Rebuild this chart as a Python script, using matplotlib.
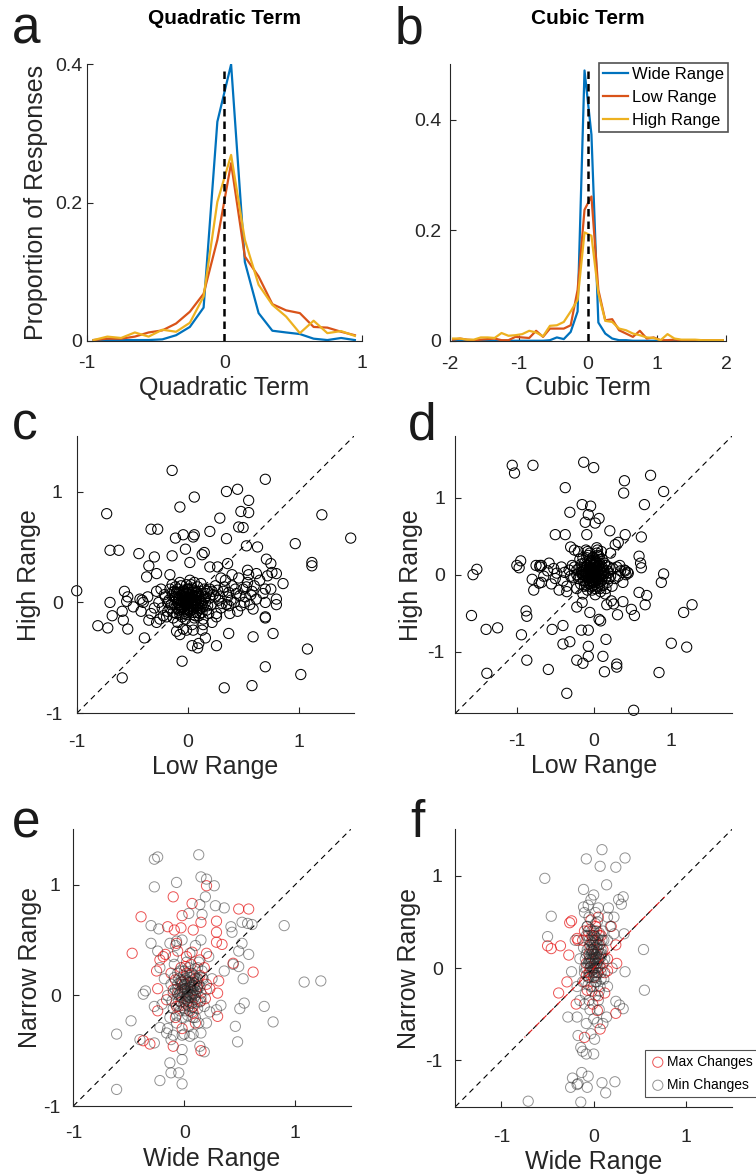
import matplotlib
matplotlib.use("Agg")
import matplotlib.pyplot as plt

plt.rcParams['font.family'] = ['Liberation Sans', 'DejaVu Sans']
plt.rcParams['axes.unicode_minus'] = False

# ---- histogram data (proportion of responses per bin) ----
quad_bins = [-0.95, -0.85, -0.75, -0.65, -0.55, -0.45, -0.35, -0.25, -0.15, -0.05,
             0.05, 0.15, 0.25, 0.35, 0.45, 0.55, 0.65, 0.75, 0.85, 0.95]
quad_wide = [0.001, 0.001, 0.001, 0.001, 0.001, 0.002, 0.008, 0.020, 0.048, 0.317,
             0.400, 0.114, 0.040, 0.0145, 0.012, 0.0097, 0.003, 0.001, 0.004, 0.001]
quad_low = [0.001, 0.003, 0.003, 0.006, 0.012, 0.015, 0.025, 0.042, 0.068, 0.146,
            0.257, 0.122, 0.093, 0.053, 0.044, 0.040, 0.020, 0.019, 0.013, 0.008]
quad_high = [0.001, 0.006, 0.004, 0.012, 0.006, 0.016, 0.013, 0.026, 0.064, 0.201,
             0.269, 0.146, 0.081, 0.052, 0.035, 0.011, 0.029, 0.011, 0.014, 0.007]

cub_bins = [-1.95, -1.85, -1.75, -1.65, -1.55, -1.45, -1.35, -1.25, -1.15, -1.05,
            -0.95, -0.85, -0.75, -0.65, -0.55, -0.45, -0.35, -0.25, -0.15, -0.05,
            0.05, 0.15, 0.25, 0.35, 0.45, 0.55, 0.65, 0.75, 0.85, 0.95,
            1.05, 1.15, 1.25, 1.35, 1.45, 1.55, 1.65, 1.75, 1.85, 1.95]
cub_wide = [0, 0, 0, 0, 0, 0, 0, 0, 0, 0,
            0, 0, 0, 0, 0.001, 0.006, 0.003, 0.016, 0.053, 0.489,
            0.373, 0.033, 0.013, 0.004, 0.001, 0.001, 0, 0, 0, 0,
            0, 0, 0, 0, 0, 0, 0, 0, 0, 0]
cub_low = [0.002, 0.004, 0.002, 0.001, 0.002, 0.003, 0.004, 0.001, 0.001, 0.007,
           0.006, 0.005, 0.018, 0.007, 0.022, 0.022, 0.022, 0.028, 0.092, 0.237,
           0.261, 0.092, 0.037, 0.039, 0.019, 0.013, 0.007, 0.018, 0.004, 0.006,
           0.001, 0.001, 0.002, 0.001, 0.001, 0.001, 0.001, 0.001, 0.001, 0.001]
cub_high = [0.004, 0.004, 0.002, 0.002, 0.006, 0.006, 0.005, 0.014, 0.009, 0.010,
            0.012, 0.018, 0.015, 0.008, 0.027, 0.028, 0.034, 0.053, 0.074, 0.196,
            0.190, 0.086, 0.036, 0.034, 0.022, 0.019, 0.013, 0.010, 0.006, 0.005,
            0.001, 0.012, 0.004, 0.002, 0.002, 0.002, 0.001, 0.001, 0.001, 0.001]
series_names = ['Wide Range', 'Low Range', 'High Range']
series_colors = ['#0072BD', '#D95319', '#EDB120']

# ---- panel c: quadratic term, low range vs high range ----
c_pts = [(-1.0, 0.105), (-0.14, 1.19), (0.70, 1.11), (0.35, 1.0), (0.45, 1.02), (0.06, 0.95),
         (0.55, 0.92), (-0.07, 0.86), (0.48, 0.82), (0.55, 0.81), (1.21, 0.79), (-0.73, 0.80),
         (0.29, 0.76), (0.46, 0.68), (0.50, 0.675), (-0.33, 0.66), (-0.27, 0.66), (0.20, 0.64),
         (-0.04, 0.61), (0.06, 0.61), (0.05, 0.59), (-0.11, 0.58), (0.35, 0.575), (1.47, 0.58),
         (0.97, 0.53), (0.53, 0.51), (0.63, 0.50), (-0.70, 0.47), (-0.62, 0.47), (-0.02, 0.48),
         (-0.44, 0.44), (-0.30, 0.41), (-0.14, 0.42), (0.13, 0.43), (0.15, 0.45), (0.02, 0.36),
         (0.71, 0.39), (0.36, 0.35), (1.12, 0.36), (1.12, 0.33), (-0.35, 0.33), (0.27, 0.32),
         (0.20, 0.32), (0.75, 0.35), (0.76, 0.27), (0.80, 0.26), (0.54, 0.29), (0.62, 0.26),
         (0.86, 0.17), (0.70, 0.12), (-0.28, 0.26), (-0.16, 0.25), (-0.37, 0.23), (-0.57, 0.10),
         (-0.54, 0.05), (-0.55, 0.01), (-0.70, 0.0), (-0.43, 0.03), (-0.41, 0.02), (-0.59, -0.08),
         (-0.68, -0.12), (-0.58, -0.16), (-0.81, -0.21), (-0.72, -0.23), (-0.54, -0.24), (-0.49, -0.04),
         (-0.35, -0.16), (-0.28, -0.18), (-0.39, -0.32), (-0.59, -0.68), (-0.05, -0.53), (0.33, -0.77),
         (0.58, -0.75), (0.70, -0.58), (1.02, -0.65), (1.08, -0.42), (0.77, -0.28), (0.59, -0.31),
         (0.37, -0.28), (0.26, -0.39), (0.09, -0.41), (0.04, -0.39), (0.10, -0.37), (0.16, -0.32),
         (0.13, -0.25), (-0.07, -0.29), (-0.01, -0.25), (0.70, -0.14), (0.70, -0.13), (0.59, -0.06),
         (0.80, -0.02), (0.80, 0.03), (0.26, -0.13), (0.37, -0.03),
         (-0.20, 0.05), (-0.15, -0.02), (-0.12, 0.10), (-0.10, -0.10), (-0.08, 0.02), (-0.06, 0.15),
         (-0.05, -0.05), (-0.03, 0.08), (-0.02, -0.15), (0.00, 0.00), (0.01, 0.12), (0.02, -0.08),
         (0.03, 0.04), (0.05, -0.02), (0.06, 0.18), (0.07, -0.12), (0.08, 0.06), (0.10, 0.00),
         (0.11, -0.05), (0.12, 0.10), (0.14, -0.15), (0.15, 0.03), (0.17, 0.08), (0.18, -0.03),
         (0.20, 0.12), (-0.18, -0.08), (-0.14, 0.16), (-0.11, 0.04), (-0.09, -0.18), (-0.07, -0.02),
         (-0.04, 0.11), (-0.01, 0.05), (0.00, -0.04), (0.02, 0.20), (0.04, -0.20), (0.06, 0.02),
         (0.09, 0.14), (0.13, -0.09), (0.16, 0.00), (-0.22, -0.12), (-0.03, -0.10), (0.04, 0.09),
         (-0.06, 0.06), (0.07, -0.04), (-0.01, 0.16), (0.01, -0.01), (-0.10, 0.09), (0.10, 0.07),
         (-0.13, -0.14), (0.19, -0.10), (-0.02, 0.02), (0.03, -0.03), (-0.05, 0.01), (0.05, 0.05),
         (0.00, 0.08), (-0.08, -0.07), (0.08, -0.09), (-0.16, 0.12), (0.12, 0.17), (-0.04, -0.24),
         (0.05, -0.25), (-0.10, -0.26), (0.14, -0.20), (0.22, -0.18), (0.25, 0.05), (-0.26, 0.00),
         (-0.28, 0.10), (-0.30, -0.05), (-0.33, -0.10), (-0.36, 0.05), (-0.40, 0.00), (-0.42, -0.08),
         (-0.25, -0.15), (-0.24, 0.12), (0.25, 0.15), (0.28, 0.02), (0.30, -0.05), (0.32, 0.10),
         (0.34, 0.20), (0.36, 0.05), (0.38, -0.10), (0.40, 0.15), (0.42, 0.00), (0.44, 0.08),
         (0.46, 0.22), (0.48, -0.03), (0.50, 0.12), (0.52, 0.05), (0.54, 0.18), (0.56, -0.02),
         (0.58, 0.10), (0.60, 0.15), (0.62, 0.03), (0.65, 0.20), (0.68, 0.08), (0.72, 0.24),
         (0.75, 0.12), (0.30, 0.22), (0.26, -0.10), (0.45, -0.08), (0.35, -0.02), (0.55, 0.25),
         (0.40, 0.25), (0.70, 0.00),
         (-0.12, -0.02), (-0.10, 0.03), (-0.09, 0.12), (-0.07, -0.11), (-0.06, -0.04), (-0.05, 0.07),
         (-0.04, 0.00), (-0.03, -0.06), (-0.02, 0.10), (-0.01, -0.11), (0.00, 0.04), (0.01, 0.09),
         (0.02, -0.05), (0.03, 0.01), (0.04, 0.13), (0.05, -0.09), (0.06, 0.06), (0.07, 0.00),
         (0.08, 0.10), (0.09, -0.03), (0.10, 0.04), (0.11, -0.10), (0.12, 0.01), (0.13, 0.06),
         (0.14, -0.04), (-0.14, 0.06), (-0.13, -0.09), (-0.11, 0.14), (-0.08, 0.08), (-0.05, -0.13),
         (-0.02, -0.03), (0.00, -0.09), (0.02, 0.07), (0.04, -0.01), (0.06, -0.14), (0.08, 0.02),
         (0.10, -0.12), (0.03, 0.16), (-0.07, 0.18), (0.15, 0.12), (-0.17, 0.02), (0.17, -0.07),
         (0.20, 0.04), (0.22, 0.10), (-0.19, -0.13), (-0.01, 0.00), (0.01, 0.02), (-0.03, 0.04),
         (0.05, 0.11), (-0.09, -0.05),
         (-0.06, 0.01), (-0.04, 0.05), (-0.02, -0.02), (0.00, 0.02), (0.02, 0.05), (0.04, 0.02),
         (0.06, -0.02), (0.08, 0.04), (-0.08, 0.04), (-0.06, -0.06), (-0.03, -0.08), (0.01, -0.06),
         (0.05, -0.06), (0.09, -0.06), (-0.09, 0.00), (0.11, 0.02), (-0.04, 0.09), (0.00, 0.12),
         (0.04, 0.07), (0.07, 0.09), (-0.12, 0.05), (0.13, -0.01), (0.16, 0.05), (0.18, 0.10),
         (0.21, -0.02), (0.23, 0.07), (0.27, 0.11), (0.29, 0.05), (0.31, -0.01), (0.33, 0.14),
         (0.37, 0.09), (0.39, 0.02), (0.43, 0.12), (0.47, 0.06), (0.51, 0.00), (0.53, 0.14),
         (0.57, 0.07), (-0.18, 0.00), (-0.21, 0.07), (-0.23, -0.05), (-0.16, -0.05), (-0.14, 0.09)]

# ---- panel d: cubic term, low range vs high range ----
d_pts = [(-1.06, 1.42), (-1.03, 1.32), (-0.79, 1.42), (-0.13, 1.46), (0.0, 1.39), (0.74, 1.29),
         (-0.37, 1.13), (0.40, 1.22), (0.39, 1.06), (0.91, 1.08), (0.66, 0.91), (-0.31, 0.81),
         (-0.15, 0.91), (-0.04, 0.89), (-0.07, 0.78), (-0.11, 0.68), (0.07, 0.73), (0.02, 0.67),
         (0.21, 0.57), (-0.50, 0.52), (-0.37, 0.52), (-0.09, 0.52), (0.41, 0.52), (0.62, 0.49),
         (0.32, 0.42), (0.28, 0.39), (-0.30, 0.36), (-0.25, 0.32), (-0.95, 0.18), (-1.0, 0.12),
         (-0.97, 0.09), (-1.52, 0.07), (-1.57, 0.0), (-0.80, -0.06), (-0.78, -0.20), (-0.71, -0.11),
         (-0.70, 0.12), (-0.68, 0.12), (-1.59, -0.53), (-1.40, -0.71), (-1.25, -0.69), (-0.88, -0.47),
         (-0.87, -0.54), (-0.94, -0.78), (-1.39, -1.28), (-0.87, -1.11), (-0.59, -1.23), (-0.54, -0.71),
         (-0.40, -0.66), (-0.40, -0.90), (-0.31, -0.87), (-0.35, -1.54), (-0.22, -1.11), (-0.14, -1.15),
         (-0.07, -1.06), (-0.07, -0.93), (-0.16, -0.72), (-0.07, -0.72), (-0.15, -0.36), (-0.22, -0.42),
         (-0.05, -0.49), (0.07, -0.58), (0.09, -0.60), (0.16, -0.84), (0.12, -1.06), (0.14, -1.26),
         (0.30, -1.16), (0.30, -1.20), (0.52, -1.76), (0.85, -1.27), (1.01, -0.89), (1.21, -0.94),
         (1.17, -0.49), (1.28, -0.39), (0.88, -0.10), (0.91, 0.01), (0.67, -0.39), (0.69, -0.27),
         (0.59, -0.23), (0.49, -0.45), (0.53, -0.53), (0.38, -0.35), (0.31, -0.52), (0.26, -0.38),
         (0.23, -0.34), (0.17, -0.39), (0.59, 0.24), (0.61, 0.15), (0.62, 0.09), (0.41, 0.05),
         (0.44, 0.03), (0.42, 0.0), (0.34, 0.12),
         (-0.25, 0.10), (-0.20, -0.05), (-0.18, 0.20), (-0.15, 0.00), (-0.12, -0.15), (-0.10, 0.10),
         (-0.08, 0.30), (-0.06, -0.05), (-0.05, 0.05), (-0.03, 0.18), (-0.02, -0.20), (0.00, 0.00),
         (0.02, 0.12), (0.03, -0.08), (0.05, 0.25), (0.06, 0.03), (0.08, -0.12), (0.10, 0.08),
         (0.12, -0.02), (0.14, 0.15), (0.16, -0.18), (0.18, 0.05), (0.20, -0.05), (-0.22, -0.18),
         (-0.16, 0.14), (-0.13, 0.05), (-0.11, -0.08), (-0.09, 0.22), (-0.07, 0.00), (-0.04, -0.12),
         (-0.01, 0.08), (0.01, -0.03), (0.04, 0.35), (0.07, 0.15), (0.09, -0.22), (0.11, 0.20),
         (0.13, 0.02), (-0.03, 0.02), (0.00, -0.06), (-0.06, 0.10), (0.04, 0.06), (-0.02, -0.01),
         (0.02, 0.04), (-0.08, -0.03), (0.06, -0.04), (-0.14, -0.25), (0.15, -0.25), (0.10, 0.30),
         (-0.05, 0.28), (0.22, 0.28), (-0.20, 0.30), (0.02, -0.26), (-0.75, 0.12), (-0.70, 0.10),
         (-0.68, -0.10), (-0.65, -0.02), (-0.60, 0.05), (-0.55, -0.12), (-0.52, 0.08), (-0.50, -0.05),
         (-0.48, 0.02), (-0.45, -0.20), (-0.42, 0.10), (-0.40, -0.08), (-0.38, 0.03), (-0.35, -0.15),
         (-0.32, 0.06), (-0.30, -0.02), (-0.28, 0.12), (0.25, 0.08), (0.28, -0.05), (0.30, 0.10),
         (0.32, -0.02), (0.35, 0.05), (0.38, -0.10), (0.40, 0.06), (0.45, 0.02), (-0.35, -0.22),
         (-0.58, 0.15), (0.24, -0.15),
         (-0.15, 0.05), (-0.13, -0.08), (-0.12, 0.15), (-0.10, 0.02), (-0.09, -0.14), (-0.08, 0.12),
         (-0.07, 0.25), (-0.06, -0.08), (-0.05, 0.00), (-0.04, 0.14), (-0.03, -0.16), (-0.02, 0.06),
         (-0.01, 0.22), (0.00, -0.10), (0.01, 0.03), (0.02, 0.18), (0.03, -0.02), (0.04, 0.09),
         (0.05, -0.15), (0.06, 0.12), (0.07, 0.00), (0.08, 0.20), (0.09, 0.05), (0.10, -0.08),
         (0.11, 0.10), (0.12, -0.14), (-0.14, 0.22), (-0.11, -0.02), (-0.06, 0.18), (-0.04, 0.04),
         (-0.02, -0.06), (0.00, 0.12), (0.02, -0.18), (0.04, 0.28), (0.06, -0.07), (-0.17, -0.12),
         (0.14, 0.02), (-0.01, 0.01), (-0.03, 0.08), (0.01, -0.02), (0.03, 0.15), (-0.08, -0.20),
         (0.08, -0.18), (-0.18, 0.10), (0.16, 0.12), (0.05, 0.32), (-0.10, 0.32), (0.18, -0.10),
         (-0.22, 0.00), (0.20, 0.10),
         (-0.07, 0.03), (-0.05, 0.08), (-0.03, -0.03), (-0.01, 0.04), (0.01, 0.09), (0.03, 0.01),
         (0.05, 0.05), (-0.09, -0.04), (-0.06, -0.12), (-0.02, -0.10), (0.02, -0.08), (0.06, -0.10),
         (-0.10, 0.07), (0.08, 0.07), (-0.04, 0.16), (0.00, 0.18), (0.04, 0.16), (-0.13, 0.00),
         (0.10, -0.01), (-0.01, -0.14), (-0.16, 0.03), (-0.19, -0.03), (-0.22, 0.06), (-0.26, -0.04),
         (0.13, 0.06), (0.16, -0.03), (0.19, 0.02), (0.22, -0.02), (-0.12, 0.10), (0.07, 0.24)]

# ---- panel e: quadratic term, wide vs narrow range ----
e_min_pts = [(-0.27, 1.23), (-0.24, 1.25), (0.13, 1.27), (-0.27, 0.98), (-0.07, 1.02), (0.15, 1.07),
             (0.20, 1.05), (0.27, 0.99), (0.19, 0.89), (0.28, 0.81), (0.36, 0.79), (0.14, 0.82),
             (0.04, 0.74), (0.16, 0.73), (-0.30, 0.63), (-0.23, 0.60), (0.42, 0.62), (0.43, 0.57),
             (0.52, 0.66), (0.57, 0.65), (0.61, 0.64), (0.90, 0.63), (-0.30, 0.47), (-0.13, 0.47),
             (-0.07, 0.49), (-0.24, 0.40), (0.49, 0.40), (0.58, 0.37), (0.52, 0.47), (0.44, 0.28),
             (0.49, 0.26), (0.36, 0.22), (0.53, 0.15), (1.08, 0.12), (1.23, 0.13), (-0.37, 0.01),
             (-0.35, 0.04), (-0.27, -0.10), (-0.48, -0.23), (-0.61, -0.35), (-0.61, -0.85), (-0.40, -0.40),
             (-0.27, -0.43), (-0.22, -0.29), (-0.16, -0.34), (-0.10, -0.36), (-0.02, -0.36), (0.05, -0.37),
             (-0.02, -0.49), (-0.02, -0.58), (-0.13, -0.61), (-0.12, -0.70), (-0.05, -0.70), (-0.22, -0.77),
             (-0.02, -0.80), (0.15, -0.34), (0.18, -0.51), (0.14, -0.46), (0.46, -0.28), (0.48, -0.42),
             (0.50, -0.12), (0.54, -0.07), (0.72, -0.10), (0.80, -0.24), (0.33, -0.09), (0.23, -0.15),
             (0.29, -0.13), (0.13, -0.25),
             (-0.15, 0.00), (-0.12, 0.10), (-0.10, -0.12), (-0.08, 0.05), (-0.06, 0.20), (-0.05, -0.05),
             (-0.03, 0.12), (-0.02, -0.20), (0.00, 0.02), (0.01, 0.15), (0.02, -0.08), (0.03, 0.06),
             (0.04, 0.25), (0.05, -0.02), (0.06, 0.10), (0.07, -0.15), (0.08, 0.04), (0.09, 0.18),
             (0.10, 0.00), (0.11, 0.12), (0.12, -0.06), (0.14, 0.08), (0.16, 0.22), (0.18, -0.10),
             (-0.13, -0.20), (-0.09, 0.28), (-0.07, -0.25), (-0.04, 0.03), (-0.01, 0.08), (0.00, -0.12),
             (0.02, 0.30), (0.04, -0.28), (0.06, 0.00), (0.08, 0.14), (0.10, -0.20), (0.13, 0.30),
             (0.15, -0.02), (0.17, 0.15), (0.20, 0.05), (-0.18, 0.15), (-0.20, -0.08), (0.03, 0.00),
             (-0.02, 0.05), (0.05, 0.08), (0.01, -0.03), (-0.05, 0.15), (0.07, 0.20), (0.12, 0.25),
             (-0.10, 0.35), (0.05, 0.38), (0.20, -0.25), (-0.15, -0.30), (0.25, 0.15), (-0.22, 0.25),
             (0.22, 0.35), (-0.08, 0.45), (0.10, 0.45), (0.15, 0.50), (-0.02, 0.50), (0.00, -0.35),
             (0.08, -0.35), (-0.12, -0.40),
             (-0.10, 0.02), (-0.08, -0.08), (-0.06, 0.10), (-0.04, -0.14), (-0.03, 0.04), (-0.01, 0.18),
             (0.00, -0.06), (0.01, 0.06), (0.03, -0.18), (0.04, 0.12), (0.05, 0.01), (0.06, 0.20),
             (0.07, -0.07), (0.08, 0.09), (0.09, -0.02), (0.10, 0.15), (0.11, 0.04), (0.12, -0.12),
             (0.13, 0.10), (0.15, 0.02), (0.16, 0.16), (-0.09, 0.16), (-0.07, -0.18), (-0.05, 0.00),
             (-0.02, 0.10), (0.00, 0.22), (0.02, -0.01), (0.04, -0.10), (0.06, 0.05), (0.08, -0.20),
             (0.10, 0.24), (0.12, 0.06), (0.14, -0.06), (-0.11, -0.05), (0.02, 0.13), (0.05, 0.16),
             (-0.04, 0.22), (0.09, 0.08), (0.01, -0.14), (0.07, 0.02),
             (-0.04, 0.01), (0.00, 0.05), (0.03, 0.03), (0.06, 0.07), (0.02, -0.04), (-0.02, -0.02),
             (0.05, 0.12), (0.08, 0.01), (-0.06, 0.06), (0.01, 0.10), (0.04, -0.06), (0.09, 0.11),
             (-0.03, 0.14), (0.07, -0.11), (-0.01, -0.09)]
e_max_pts = [(-0.39, 0.71), (-0.10, 0.89), (0.07, 0.83), (0.20, 0.99), (-0.02, 0.72), (-0.15, 0.62),
             (-0.09, 0.59), (-0.03, 0.61), (0.08, 0.59), (0.15, 0.66), (0.29, 0.67), (0.29, 0.57),
             (0.49, 0.78), (0.58, 0.78), (-0.47, 0.38), (-0.17, 0.37), (-0.22, 0.32), (-0.25, 0.22),
             (-0.19, 0.35), (-0.07, 0.47), (0.07, 0.39), (0.20, 0.38), (0.29, 0.48), (0.34, 0.46),
             (0.62, 0.21), (0.44, 0.29), (-0.24, 0.06), (-0.24, -0.14), (-0.10, -0.46), (-0.37, -0.41),
             (-0.31, -0.44), (0.15, -0.50), (0.30, -0.19), (0.30, 0.02), (0.31, 0.13), (0.23, 0.06),
             (0.08, -0.16), (0.19, -0.03), (-0.07, -0.10), (-0.16, -0.04), (0.01, 0.26),
             (-0.10, 0.05), (-0.05, -0.10), (0.00, 0.10), (0.03, -0.05), (0.05, 0.18), (0.08, -0.10),
             (0.10, 0.05), (0.12, 0.15), (-0.03, 0.25), (0.15, -0.05), (-0.08, -0.20), (0.02, 0.35),
             (0.06, 0.28), (-0.12, 0.20), (0.18, 0.25), (0.14, 0.32), (0.20, 0.10), (-0.06, 0.40),
             (0.10, -0.25), (-0.02, -0.30),
             (-0.06, 0.02), (0.00, 0.06), (0.04, -0.02), (0.07, 0.12), (0.10, -0.04), (-0.03, -0.06),
             (0.02, 0.20), (0.12, 0.08), (-0.08, 0.14), (0.05, -0.14), (0.14, 0.18), (-0.02, 0.12)]

# ---- panel f: cubic term, wide vs narrow range ----
f_min_pts = [(-0.53, 0.97), (-0.08, 1.18), (0.09, 1.28), (0.07, 1.10), (0.34, 1.19), (0.24, 1.09),
             (0.14, 0.90), (-0.11, 0.85), (0.0, 0.79), (-0.03, 0.74), (-0.11, 0.66), (-0.06, 0.68),
             (0.16, 0.65), (0.27, 0.74), (0.32, 0.77), (0.30, 0.69), (0.22, 0.55), (-0.46, 0.56),
             (-0.50, 0.34), (0.54, 0.20), (0.34, -0.04), (0.55, -0.24), (0.24, -0.36), (0.28, -0.40),
             (0.32, -0.44), (0.33, 0.37), (0.22, 0.37), (0.15, 0.55), (-0.24, -0.04), (-0.28, -0.53),
             (-0.18, -0.53), (-0.17, -0.73), (-0.14, -0.86), (-0.12, -0.90), (-0.08, -0.93), (0.0, -0.93),
             (0.01, -0.77), (-0.03, -0.71), (-0.10, -0.39), (0.14, -0.53), (0.04, -0.59), (-0.71, -1.44),
             (-0.23, -1.19), (-0.25, -1.29), (-0.18, -1.26), (-0.17, -1.25), (-0.13, -1.13), (-0.06, -1.17),
             (-0.07, -1.29), (-0.14, -1.45), (0.09, -1.24), (0.13, -1.35), (0.23, -1.23),
             (-0.10, 0.00), (-0.08, 0.15), (-0.06, -0.10), (-0.05, 0.30), (-0.04, 0.05), (-0.03, -0.20),
             (-0.02, 0.20), (-0.01, 0.10), (0.00, -0.05), (0.01, 0.35), (0.02, 0.00), (0.03, -0.15),
             (0.04, 0.25), (0.05, 0.08), (0.06, -0.25), (0.07, 0.15), (0.08, -0.05), (0.10, 0.40),
             (-0.09, -0.28), (-0.07, 0.45), (-0.03, 0.10), (0.00, 0.15), (0.02, -0.30), (0.04, 0.50),
             (0.06, 0.02), (-0.11, 0.22), (0.11, -0.12), (-0.05, -0.35), (0.09, 0.30), (-0.02, 0.40),
             (0.01, -0.08), (-0.06, 0.05), (0.03, 0.12), (-0.01, -0.02), (0.00, 0.25), (0.05, -0.35),
             (-0.08, 0.35), (0.08, 0.20), (-0.12, -0.15), (0.12, 0.10), (-0.04, -0.45), (0.06, -0.45),
             (0.02, 0.60), (-0.05, 0.55), (0.15, 0.30), (-0.15, 0.10), (0.15, -0.20), (-0.15, -0.35),
             (0.00, -0.55), (0.05, 0.65), (-0.10, 0.60), (0.10, -0.60), (-0.08, -0.60), (0.18, 0.45),
             (-0.18, -0.20), (0.20, 0.00), (-0.20, 0.30),
             (-0.08, 0.00), (-0.07, 0.20), (-0.06, 0.35), (-0.05, -0.10), (-0.04, 0.12), (-0.03, 0.28),
             (-0.02, -0.03), (-0.01, 0.18), (0.00, 0.40), (0.01, 0.05), (0.02, -0.15), (0.03, 0.22),
             (0.04, 0.32), (0.05, -0.05), (0.06, 0.10), (0.07, 0.26), (0.08, -0.12), (0.09, 0.15),
             (0.10, 0.05), (-0.09, 0.10), (-0.06, -0.18), (-0.04, 0.42), (-0.02, 0.08), (0.00, -0.20),
             (0.02, 0.30), (0.04, 0.00), (0.06, 0.38), (0.08, 0.12), (-0.05, 0.22), (0.03, -0.08),
             (-0.01, 0.33), (0.01, 0.15), (-0.03, 0.02), (0.05, 0.20), (0.11, 0.30), (-0.10, -0.05),
             (0.07, -0.20), (-0.07, 0.45), (0.02, 0.48), (0.00, 0.10),
             (-0.03, 0.06), (0.00, 0.00), (0.02, 0.10), (-0.02, 0.15), (0.01, 0.22), (0.03, 0.05),
             (-0.04, -0.04), (0.04, 0.17), (-0.01, 0.27), (0.02, -0.10), (0.05, 0.12), (-0.05, 0.08),
             (0.00, 0.35), (0.03, 0.28), (-0.03, 0.20)]
f_max_pts = [(-0.26, 0.49), (-0.24, 0.51), (-0.50, 0.24), (-0.46, 0.21), (-0.36, 0.24), (-0.27, 0.14),
             (-0.29, -0.15), (-0.38, -0.27), (-0.18, 0.32), (-0.10, 0.40), (-0.03, 0.52), (0.05, 0.55),
             (0.19, 0.45), (0.24, 0.25), (0.25, 0.05), (0.12, -0.27), (0.24, -0.49), (0.07, -0.66),
             (-0.10, -0.75), (-0.19, -0.39), (-0.01, -0.39), (0.04, -0.46), (-0.17, 0.30), (-0.07, -0.24),
             (0.15, -0.03),
             (-0.08, 0.05), (-0.04, 0.25), (0.00, -0.10), (0.03, 0.15), (0.06, 0.35), (-0.02, -0.25),
             (0.08, 0.00), (-0.06, 0.40), (0.05, -0.30), (0.10, 0.20), (-0.10, -0.15), (0.02, 0.45),
             (0.12, -0.05), (-0.12, 0.30), (0.15, 0.10), (0.00, 0.30), (-0.05, -0.05), (0.04, 0.05),
             (-0.05, 0.15), (0.00, 0.20), (0.04, -0.05), (-0.02, 0.35), (0.06, 0.25), (0.02, 0.08),
             (-0.08, -0.08), (0.08, 0.35), (-0.04, 0.00), (0.03, 0.40)]

GREY = '#262626'
MS = 54


def style(ax, xpad, ypad):
    for s in ['top', 'right']:
        ax.spines[s].set_visible(False)
    for s in ['left', 'bottom']:
        ax.spines[s].set_color(GREY)
        ax.spines[s].set_linewidth(0.8)
    ax.tick_params(direction='in', length=4, width=0.8, colors=GREY, labelsize=14)
    ax.tick_params(axis='x', pad=xpad)
    ax.tick_params(axis='y', pad=ypad)


def xy(pts):
    return [p[0] for p in pts], [p[1] for p in pts]


fig = plt.figure(figsize=(7.56, 11.75), dpi=100)

ax_a = fig.add_axes([0.1147, 0.7100, 0.3638, 0.2352])
ax_b = fig.add_axes([0.5948, 0.7100, 0.3659, 0.2352])
ax_c = fig.add_axes([0.1015, 0.3929, 0.3668, 0.2360])
ax_d = fig.add_axes([0.6023, 0.3929, 0.3660, 0.2360])
ax_e = fig.add_axes([0.0970, 0.0587, 0.3670, 0.2355])
ax_f = fig.add_axes([0.6023, 0.0581, 0.3660, 0.2361])

# panel a
for vals, col in zip([quad_wide, quad_low, quad_high], series_colors):
    ax_a.plot(quad_bins, vals, color=col, lw=1.6)
ax_a.vlines(0, 0, 0.39, colors='k', linestyles=(0, (3, 2)), lw=1.8)
ax_a.set_xlim(-1, 1)
ax_a.set_ylim(0, 0.4)
ax_a.set_xticks([-1, 0, 1])
ax_a.set_yticks([0, 0.2, 0.4])
ax_a.set_yticklabels(['0', '0.2', '0.4'])
ax_a.set_xlabel('Quadratic Term', fontsize=18, color=GREY, labelpad=3)
ax_a.set_ylabel('Proportion of Responses', fontsize=18, color=GREY, labelpad=5)
ax_a.text(0.5, 1.167, 'Quadratic Term', transform=ax_a.transAxes, ha='center',
          va='center', fontsize=15, fontweight='bold')
style(ax_a, 10, 3)

# panel b
for vals, col, name in zip([cub_wide, cub_low, cub_high], series_colors, series_names):
    ax_b.plot(cub_bins, vals, color=col, lw=1.6, label=name)
ax_b.vlines(0, 0, 0.49, colors='k', linestyles=(0, (3, 2)), lw=1.8)
ax_b.set_xlim(-2, 2)
ax_b.set_ylim(0, 0.5)
ax_b.set_xticks([-2, -1, 0, 1, 2])
ax_b.set_yticks([0, 0.2, 0.4])
ax_b.set_yticklabels(['0', '0.2', '0.4'])
ax_b.set_xlabel('Cubic Term', fontsize=18, color=GREY, labelpad=2)
ax_b.text(0.5, 1.167, 'Cubic Term', transform=ax_b.transAxes, ha='center',
          va='center', fontsize=15, fontweight='bold')
leg = ax_b.legend(loc='upper right', bbox_to_anchor=(1.005, 1.005), borderaxespad=0,
                  fontsize=12, frameon=True, fancybox=False, handlelength=1.5,
                  handletextpad=0.2, labelspacing=0.47, borderpad=0.25)
leg.get_frame().set_edgecolor(GREY)
leg.get_frame().set_linewidth(1.2)
style(ax_b, 11, 6)


def scatter_panel(ax, lim, xlabel, ylabel, xpad, ypad):
    ax.plot(lim, lim, color='k', ls=(0, (5, 4)), lw=0.8)
    ax.set_xlim(*lim)
    ax.set_ylim(*lim)
    ax.set_xticks([-1, 0, 1])
    ax.set_yticks([-1, 0, 1])
    ax.set_xlabel(xlabel, fontsize=18, color=GREY, labelpad=3)
    ax.set_ylabel(ylabel, fontsize=18, color=GREY, labelpad=3)
    style(ax, xpad, ypad)


# panel c
cx, cy = xy(c_pts)
ax_c.scatter(cx, cy, s=MS, facecolors='none', edgecolors='k', linewidths=0.75, clip_on=False)
scatter_panel(ax_c, (-1, 1.5), 'Low Range', 'High Range', 15, 10)

# panel d
dx, dy = xy(d_pts)
ax_d.scatter(dx, dy, s=MS, facecolors='none', edgecolors='k', linewidths=0.75, clip_on=False)
scatter_panel(ax_d, (-1.8, 1.8), 'Low Range', 'High Range', 14, 7.5)

# panel e
red = (0.9, 0.1, 0.1, 0.75)
gry = (0.15, 0.15, 0.15, 0.5)
ex, ey = xy(e_max_pts)
ax_e.scatter(ex, ey, s=MS, facecolors='none', edgecolors=[red], linewidths=0.7, clip_on=False)
ex, ey = xy(e_min_pts)
ax_e.scatter(ex, ey, s=MS, facecolors='none', edgecolors=[gry], linewidths=0.7, clip_on=False)
scatter_panel(ax_e, (-1, 1.5), 'Wide Range', 'Narrow Range', 14, 9)
ax_e.yaxis.labelpad = 1

# panel f
fx, fy = xy(f_max_pts)
ax_f.scatter(fx, fy, s=MS, facecolors='none', edgecolors=[red], linewidths=0.7,
             clip_on=False, label='Max Changes')
fx, fy = xy(f_min_pts)
ax_f.scatter(fx, fy, s=MS, facecolors='none', edgecolors=[gry], linewidths=0.7,
             clip_on=False, label='Min Changes')
scatter_panel(ax_f, (-1.5, 1.5), 'Wide Range', 'Narrow Range', 16, 9)
ax_f.plot([-0.75, 0.77], [-0.75, 0.77], color=(0.85, 0.1, 0.1), ls=(4, (5, 4)), lw=0.8)
leg_f = ax_f.legend(loc='lower left', bbox_to_anchor=(0.684, 0.036), borderaxespad=0,
                    fontsize=10, frameon=True, fancybox=False, handletextpad=0.05,
                    labelspacing=0.65, borderpad=0.35, handlelength=1.2)
leg_f.get_frame().set_edgecolor(GREY)
leg_f.get_frame().set_linewidth(0.8)

# panel letters
for lx, ly, letter in [(12, 43, 'a'), (395, 43, 'b'), (12, 440, 'c'),
                       (408, 440, 'd'), (12, 837, 'e'), (410, 837, 'f')]:
    fig.text(lx / 756, 1 - ly / 1175, letter, fontsize=37, color='#1a1a1a',
             va='baseline', ha='left')

fig.savefig('out.png', dpi=100)
